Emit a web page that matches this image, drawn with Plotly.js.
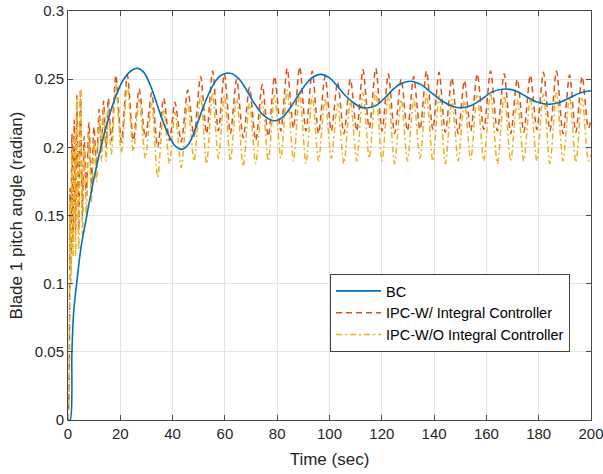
<!DOCTYPE html>
<html>
<head>
<meta charset="utf-8">
<script src="https://cdn.plot.ly/plotly-3.0.1.min.js"></script>
<style>html,body{margin:0;padding:0;background:#fff;}#chart{width:603px;height:474px;}</style>
</head>
<body>
<div id="chart"></div>
<script>
// BC response (time in sec, pitch in radian)
const tBC = [0, 0.8, 1.5, 2.2, 3.3, 5, 7.2, 10, 12.6, 15, 18, 21, 24, 26.5, 29, 32, 35, 38, 41, 43.5, 46, 49, 52, 55, 58, 61.5, 65, 68, 71, 74, 77, 79.5, 82, 85, 88, 91, 94, 97, 100, 103, 106, 109, 112, 115, 118, 121, 124, 127, 131, 135, 139, 143, 147, 150.5, 154, 158, 162, 167, 171, 175, 179, 184, 188, 192, 196, 200];
const bc = [0, 0, 0.05, 0.08, 0.1, 0.127, 0.15, 0.178, 0.2, 0.218, 0.236, 0.249, 0.256, 0.258, 0.255, 0.243, 0.226, 0.211, 0.201, 0.1985, 0.202, 0.215, 0.231, 0.244, 0.252, 0.2545, 0.251, 0.243, 0.233, 0.225, 0.2205, 0.2195, 0.222, 0.229, 0.238, 0.2465, 0.252, 0.2535, 0.251, 0.245, 0.238, 0.233, 0.2295, 0.229, 0.231, 0.236, 0.242, 0.2465, 0.2485, 0.246, 0.240, 0.234, 0.2302, 0.229, 0.2305, 0.235, 0.2405, 0.2428, 0.2415, 0.2375, 0.2335, 0.2316, 0.233, 0.2365, 0.240, 0.2415];

// IPC responses (shared time samples at peaks / troughs)
const tIPC = [0, 0.4, 0.8, 1.1, 1.5, 1.9, 2.4, 2.9, 3.4, 4.1, 4.8, 5.5, 6.2, 7.0, 8.0, 9.0, 9.9, 10.9, 11.9, 12.8, 13.6, 14.6, 15.4, 16.6, 18.3, 20.4, 22.7, 25.0,
  27.2, 29.6, 32.0, 34.3, 36.6, 38.8, 40.9, 43.3, 45.8, 48.2, 50.7, 53.0, 55.3, 57.5, 59.8, 62.1, 64.5, 67.0, 69.4, 71.8, 74.3, 76.6, 79.0, 81.4,
  83.8, 86.2, 88.6, 91.0, 93.4, 95.8, 98.3, 100.7, 103.1, 105.5, 108.0, 110.4, 112.8, 115.2, 117.7, 120.1, 122.5, 124.9, 127.4, 129.8, 132.2, 134.6,
  137.1, 139.5, 141.9, 144.3, 146.8, 149.2, 151.6, 154.0, 156.5, 159.0, 161.6, 164.2, 166.8, 169.3, 171.8, 174.3, 176.8, 179.3, 181.8, 184.3,
  186.8, 189.3, 191.8, 194.2, 196.6, 199.0, 200.0];
const ipcW = [0, 0.02, 0.17, 0.11, 0.21, 0.13, 0.22, 0.14, 0.238, 0.14, 0.243, 0.15, 0.208, 0.165, 0.218, 0.172, 0.215, 0.186, 0.228, 0.198, 0.234, 0.2, 0.236, 0.205, 0.253, 0.204, 0.253, 0.205,
  0.243, 0.207, 0.240, 0.200, 0.236, 0.205, 0.233, 0.204, 0.242, 0.208, 0.252, 0.210, 0.256, 0.212, 0.254, 0.210, 0.250, 0.207, 0.244, 0.205, 0.246, 0.208, 0.252, 0.212,
  0.258, 0.214, 0.259, 0.212, 0.256, 0.210, 0.252, 0.212, 0.248, 0.210, 0.250, 0.212, 0.257, 0.214, 0.258, 0.212, 0.254, 0.210, 0.250, 0.212, 0.252, 0.213,
  0.256, 0.213, 0.255, 0.211, 0.251, 0.210, 0.249, 0.212, 0.254, 0.213, 0.256, 0.212, 0.254, 0.210, 0.250, 0.211, 0.253, 0.213, 0.255, 0.212,
  0.256, 0.210, 0.253, 0.211, 0.252, 0.214, 0.220];
const ipcWO = [0, 0.02, 0.16, 0.10, 0.20, 0.12, 0.21, 0.12, 0.236, 0.125, 0.242, 0.135, 0.200, 0.150, 0.210, 0.160, 0.205, 0.175, 0.222, 0.190, 0.228, 0.190, 0.230, 0.195, 0.246, 0.196, 0.245, 0.197,
  0.235, 0.192, 0.232, 0.178, 0.228, 0.188, 0.226, 0.185, 0.232, 0.190, 0.238, 0.188, 0.240, 0.192, 0.238, 0.190, 0.236, 0.186, 0.232, 0.188, 0.234, 0.190, 0.238, 0.192,
  0.242, 0.190, 0.240, 0.188, 0.238, 0.190, 0.236, 0.192, 0.232, 0.188, 0.234, 0.190, 0.240, 0.192, 0.241, 0.190, 0.238, 0.188, 0.235, 0.190, 0.236, 0.192,
  0.239, 0.190, 0.238, 0.188, 0.235, 0.190, 0.234, 0.191, 0.238, 0.190, 0.240, 0.188, 0.238, 0.190, 0.235, 0.190, 0.236, 0.190, 0.239, 0.188,
  0.240, 0.190, 0.237, 0.189, 0.236, 0.190, 0.195];

const xTicks = [0, 20, 40, 60, 80, 100, 120, 140, 160, 180, 200];
const yTicks = [0, 0.05, 0.1, 0.15, 0.2, 0.25, 0.3];
const yTickText = ['0', '0.05', '0.1', '0.15', '0.2', '0.25', '0.3'];

const FONT = 'Liberation Sans, Arial, Helvetica, sans-serif';

const traces = [
  {x: tIPC, y: ipcW, type: 'scatter', mode: 'lines', name: 'IPC-W/ Integral Controller', legendrank: 2,
   line: {color: '#D95319', width: 1.5, dash: '6px,4px', shape: 'spline', smoothing: 0.8}},
  {x: tIPC, y: ipcWO, type: 'scatter', mode: 'lines', name: 'IPC-W/O Integral Controller', legendrank: 3,
   line: {color: '#EDB120', width: 1.5, dash: '6px,3px,2px,3px', shape: 'spline', smoothing: 0.8}},
  {x: tBC, y: bc, type: 'scatter', mode: 'lines', name: 'BC', legendrank: 1,
   line: {color: '#0072BD', width: 1.6, shape: 'spline', smoothing: 0.9}}
];

const axisCommon = {
  showline: true, linecolor: '#4a4a4a', linewidth: 1, mirror: 'ticks',
  ticks: 'inside', ticklen: 5, tickcolor: '#4a4a4a', tickwidth: 1,
  showgrid: true, gridcolor: '#e3e3e3', gridwidth: 1, zeroline: false,
  ticklabeloverflow: 'allow',
  tickfont: {family: FONT, size: 15, color: '#262626'}
};

const layout = {
  width: 603, height: 474,
  margin: {l: 68, r: 12, t: 11, b: 54},
  paper_bgcolor: '#ffffff', plot_bgcolor: '#ffffff',
  showlegend: true,
  xaxis: Object.assign({}, axisCommon, {
    range: [0, 200], tickvals: xTicks, ticktext: xTicks.map(String),
    title: {text: 'Time (sec)', font: {family: FONT, size: 17, color: '#262626'}, standoff: 12}
  }),
  yaxis: Object.assign({}, axisCommon, {
    range: [0, 0.3], tickvals: yTicks, ticktext: yTickText,
    title: {text: 'Blade 1 pitch angle (radian)', font: {family: FONT, size: 17, color: '#262626'}, standoff: 7}
  }),
  legend: {
    x: 0.501, y: 0.357, xanchor: 'left', yanchor: 'top',
    bgcolor: '#ffffff', bordercolor: '#404040', borderwidth: 1,
    font: {family: FONT, size: 14.5, color: '#000000'},
    itemwidth: 45,
    traceorder: 'normal', tracegroupgap: 0
  }
};

Plotly.newPlot('chart', traces, layout, {displayModeBar: false, staticPlot: true});
</script>
</body>
</html>
